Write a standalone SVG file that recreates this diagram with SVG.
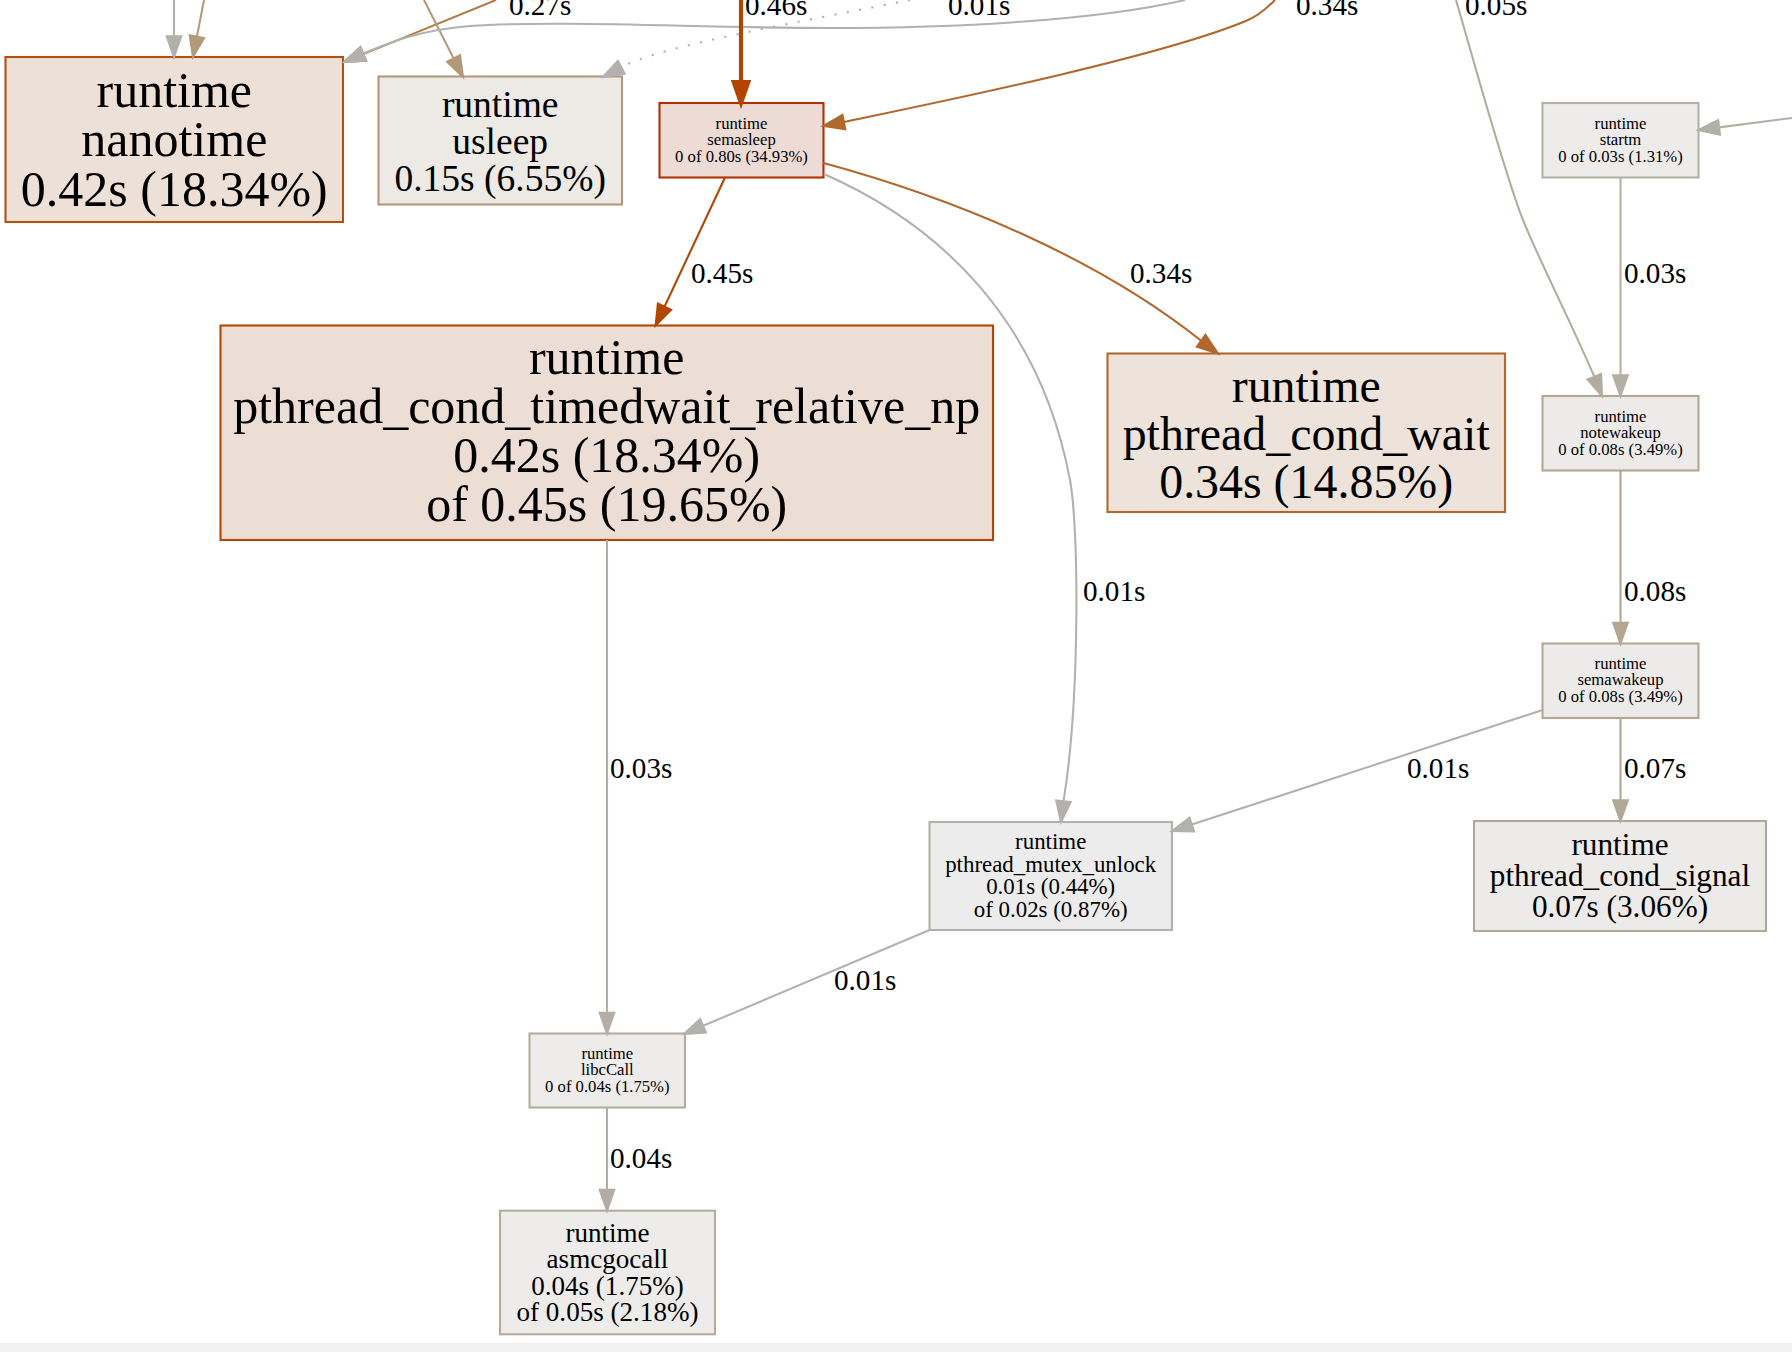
<svg xmlns="http://www.w3.org/2000/svg" width="1792" height="1352" viewBox="0 0 1792 1352">
<style>
.n rect{stroke-width:2.08}
.n text{font-family:"Liberation Serif","Times New Roman",serif;fill:#000;stroke:none;text-anchor:middle}
.f50{font-size:50px}.f48{font-size:47.9px}.f37{font-size:37.5px}.f31{font-size:31.25px}.f27{font-size:27.08px}.f23{font-size:22.9px}.f17{font-size:16.67px}
.e path{fill:none;stroke-width:2.08}
.e polygon{stroke-width:2.08}
.e text{font-family:"Liberation Serif","Times New Roman",serif;font-size:29.17px;fill:#000;stroke:none}
.w2 path,.w2 polygon{stroke-width:4.17}
.dot path{stroke-dasharray:2.08,10.4}
.c01{stroke:#b2b1ae;fill:#b2b1ae}
.c03{stroke:#b2afa6;fill:#b2afa6}
.c04{stroke:#b2ada2;fill:#b2ada2}
.c05{stroke:#b2ac9f;fill:#b2ac9f}
.c07{stroke:#b2a897;fill:#b2a897}
.c08{stroke:#b2a793;fill:#b2a793}
.c27{stroke:#b27b49;fill:#b27b49}
.c34{stroke:#b2672d;fill:#b2672d}
.c45{stroke:#b24603;fill:#b24603}
.c46{stroke:#b24400;fill:#b24400}
.cgx{stroke:#b2b0aa;fill:#b2b0aa}
.ct1{stroke:#b29a7b;fill:#b29a7b}
.ct2{stroke:#b29878;fill:#b29878}
</style>
<rect x="0" y="0" width="1792" height="1352" fill="#ffffff"/>
<rect x="0" y="1343" width="1792" height="9" fill="#f2f2f2"/>

<g id="nodes">
<g id="node-nanotime" class="n">
<rect x="5.5" y="57" width="337.5" height="165" fill="#ede0d7" stroke="#b2500e"/>
<text class="f50" x="174.3" y="107">runtime</text>
<text class="f50" x="174.3" y="155.5">nanotime</text>
<text class="f50" x="174.3" y="206">0.42s (18.34%)</text>
</g>
<g id="node-usleep" class="n">
<rect x="378.5" y="76.5" width="243.5" height="128" fill="#ede9e5" stroke="#b29878"/>
<text class="f37" x="500.2" y="116.5">runtime</text>
<text class="f37" x="500.2" y="153.5">usleep</text>
<text class="f37" x="500.2" y="191">0.15s (6.55%)</text>
</g>
<g id="node-semasleep" class="n">
<rect x="659.5" y="103" width="164" height="74.5" fill="#eddbd5" stroke="#b23000"/>
<text class="f17" x="741.5" y="128.5">runtime</text>
<text class="f17" x="741.5" y="145">semasleep</text>
<text class="f17" x="741.5" y="161.5">0 of 0.80s (34.93%)</text>
</g>
<g id="node-timedwait" class="n">
<rect x="220.5" y="325.5" width="772.5" height="214.5" fill="#edded5" stroke="#b24603"/>
<text class="f50" x="606.7" y="373.8">runtime</text>
<text class="f50" x="606.7" y="422.9">pthread_cond_timedwait_relative_np</text>
<text class="f50" x="606.7" y="472">0.42s (18.34%)</text>
<text class="f50" x="606.7" y="521.1">of 0.45s (19.65%)</text>
</g>
<g id="node-condwait" class="n">
<rect x="1107.5" y="353.5" width="397.5" height="158.5" fill="#ede3db" stroke="#b2672d"/>
<text class="f48" x="1306.2" y="401.5">runtime</text>
<text class="f48" x="1306.2" y="450">pthread_cond_wait</text>
<text class="f48" x="1306.2" y="497.5">0.34s (14.85%)</text>
</g>
<g id="node-startm" class="n">
<rect x="1542.5" y="103" width="156" height="74.5" fill="#edeceb" stroke="#b2afa6"/>
<text class="f17" x="1620.5" y="128.5">runtime</text>
<text class="f17" x="1620.5" y="145">startm</text>
<text class="f17" x="1620.5" y="161.5">0 of 0.03s (1.31%)</text>
</g>
<g id="node-notewakeup" class="n">
<rect x="1542.5" y="396" width="156" height="74.5" fill="#edebe9" stroke="#b2a793"/>
<text class="f17" x="1620.5" y="421.5">runtime</text>
<text class="f17" x="1620.5" y="438">notewakeup</text>
<text class="f17" x="1620.5" y="454.5">0 of 0.08s (3.49%)</text>
</g>
<g id="node-semawakeup" class="n">
<rect x="1542.5" y="643.5" width="156" height="74.5" fill="#edebe9" stroke="#b2a793"/>
<text class="f17" x="1620.5" y="668.5">runtime</text>
<text class="f17" x="1620.5" y="685">semawakeup</text>
<text class="f17" x="1620.5" y="701.5">0 of 0.08s (3.49%)</text>
</g>
<g id="node-condsignal" class="n">
<rect x="1474" y="821" width="292" height="110" fill="#edebe9" stroke="#b2a897"/>
<text class="f31" x="1620" y="854.6">runtime</text>
<text class="f31" x="1620" y="885.6">pthread_cond_signal</text>
<text class="f31" x="1620" y="916.6">0.07s (3.06%)</text>
</g>
<g id="node-mutexunlock" class="n">
<rect x="929.5" y="822" width="242.5" height="108" fill="#edecec" stroke="#b2b0aa"/>
<text class="f23" x="1050.7" y="849">runtime</text>
<text class="f23" x="1050.7" y="871.5">pthread_mutex_unlock</text>
<text class="f23" x="1050.7" y="894">0.01s (0.44%)</text>
<text class="f23" x="1050.7" y="916.5">of 0.02s (0.87%)</text>
</g>
<g id="node-libccall" class="n">
<rect x="529.5" y="1033.5" width="155.5" height="74" fill="#edeceb" stroke="#b2ada2"/>
<text class="f17" x="607.3" y="1058.5">runtime</text>
<text class="f17" x="607.3" y="1075">libcCall</text>
<text class="f17" x="607.3" y="1091.5">0 of 0.04s (1.75%)</text>
</g>
<g id="node-asmcgocall" class="n">
<rect x="500" y="1210.7" width="215" height="123.6" fill="#edecea" stroke="#b2ac9f"/>
<text class="f27" x="607.5" y="1241.5">runtime</text>
<text class="f27" x="607.5" y="1268.3">asmcgocall</text>
<text class="f27" x="607.5" y="1294.8">0.04s (1.75%)</text>
<text class="f27" x="607.5" y="1321.3">of 0.05s (2.18%)</text>
</g>
</g>

<g id="connectors">
<g class="e cgx"><path d="M174,0 L174,36.2"/><polygon points="174,57 181.3,36.2 166.7,36.2"/></g>
<g class="e ct1"><path d="M204,0 L196.9,36.6"/><polygon points="193,57 189.7,35.2 204.1,38"/></g>
<g class="e c27"><path d="M496,0 L363.3,54.1"/><polygon points="344,62 360.5,47.3 366.1,60.9"/><text x="509" y="14.5">0.27s</text></g>
<g class="e ct2"><path d="M424,0 L453.6,58.4"/><polygon points="463,77 447.1,61.7 460.1,55.1"/></g>
<g class="e c01 dot"><path d="M910,0 C800,22 660,46 621.3,67.2"/><polygon points="603,77 617.9,60.8 624.7,73.6"/><text x="948" y="14.5">0.01s</text></g>
<g class="e c01"><path d="M1185,0 C1100,20 960,28 830,28 C700,28 560,20 470,26 C420,30 390,42 363.1,53.8"/><polygon points="344,62 360.3,47.1 366,60.5"/></g>
<g class="e c46 w2"><path d="M741,0 L741,82.2"/><polygon points="741,103 748.3,82.2 733.7,82.2"/><text x="745" y="14.5">0.46s</text></g>
<g class="e c34"><path d="M1275,0 C1265,10 1258,16 1248,20 C1160,58 910,108 843.9,122"/><polygon points="823.5,126 842.5,114.9 845.3,129.2"/><text x="1296" y="14.5">0.34s</text></g>
<g class="e c05"><path d="M1456,0 C1475,65 1505,175 1523,220 C1540,262 1570,320 1594.3,376.7"/><polygon points="1602,396 1587.5,379.4 1601.1,374"/><text x="1465" y="14.5">0.05s</text></g>
<g class="e c03"><path d="M1792,118 L1719.1,127.4"/><polygon points="1698.5,130 1718.2,120.2 1720,134.6"/></g>
<g class="e c45"><path d="M725,177.5 L664.5,306.7"/><polygon points="655.6,325.5 657.9,303.6 671.1,309.8"/><text x="691" y="283">0.45s</text></g>
<g class="e c34"><path d="M823.5,163 C960,200 1100,260 1201.2,340.8"/><polygon points="1218,353.5 1196.9,346.7 1205.4,334.9"/><text x="1130" y="283">0.34s</text></g>
<g class="e c01"><path d="M824,174 C940,225 1040,320 1070,480 C1079,528 1080,700 1063.5,801.4"/><polygon points="1061,822 1056.2,800.5 1070.7,802.2"/><text x="1083" y="601">0.01s</text></g>
<g class="e c03"><path d="M1620.5,177.5 L1620.5,375.2"/><polygon points="1620.5,396 1627.8,375.2 1613.2,375.2"/><text x="1624" y="283">0.03s</text></g>
<g class="e c08"><path d="M1620.5,470.5 L1620.5,622.7"/><polygon points="1620.5,643.5 1627.8,622.7 1613.2,622.7"/><text x="1624" y="601">0.08s</text></g>
<g class="e c07"><path d="M1620.5,718 L1620.5,800.2"/><polygon points="1620.5,821 1627.8,800.2 1613.2,800.2"/><text x="1624" y="778">0.07s</text></g>
<g class="e c01"><path d="M1542.5,710 L1191.8,824.6"/><polygon points="1172,831 1189.5,817.7 1194.1,831.5"/><text x="1407" y="778">0.01s</text></g>
<g class="e c03"><path d="M607,540 L607,1012.7"/><polygon points="607,1033.5 614.3,1012.7 599.7,1012.7"/><text x="610" y="778">0.03s</text></g>
<g class="e c01"><path d="M929.5,930 L703.1,1025.8"/><polygon points="684,1034 700.2,1019.1 706,1032.5"/><text x="834" y="990">0.01s</text></g>
<g class="e c04"><path d="M607,1108 L607,1189.9"/><polygon points="607,1210.7 614.3,1189.9 599.7,1189.9"/><text x="610" y="1168">0.04s</text></g>
</g>
</svg>
